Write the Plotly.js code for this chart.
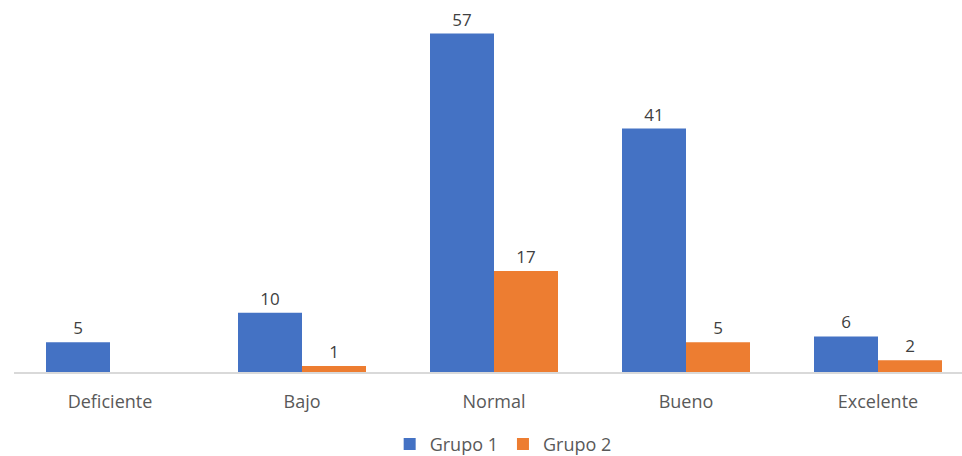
<!DOCTYPE html>
<html><head><meta charset="utf-8">
<script src="https://cdn.plot.ly/plotly-3.0.1.min.js"></script>
<style>html,body{margin:0;padding:0;background:#fff}</style>
</head><body><div id="chart" style="width:962px;height:456px"></div>
<script>
const categories = ["Deficiente", "Bajo", "Normal", "Bueno", "Excelente"];
const grupo1 = [5, 10, 57, 41, 6];
const grupo2 = [null, 1, 17, 5, 2];
const seriesNames = ["Grupo 1", "Grupo 2"];

const font = "Open Sans, sans-serif";
const traces = [
  {type: "bar", x: categories, y: grupo1, name: seriesNames[0],
   marker: {color: "#4472C4"}, text: grupo1.map(v => v == null ? "" : String(v)),
   textposition: "outside", cliponaxis: false,
   textfont: {family: font, size: 17, color: "#404040"}},
  {type: "bar", x: categories, y: grupo2, name: seriesNames[1],
   marker: {color: "#ED7D31"}, text: grupo2.map(v => v == null ? "" : String(v)),
   textposition: "outside", cliponaxis: false,
   textfont: {family: font, size: 17, color: "#404040"}}
];
const layout = {
  width: 962, height: 456,
  margin: {l: 14, r: 0, t: 10, b: 84, autoexpand: false},
  paper_bgcolor: "#fff", plot_bgcolor: "#fff",
  barmode: "group", bargap: 1/3, bargroupgap: 0,
  font: {family: font, color: "#595959", size: 18},
  showlegend: true,
  legend: {orientation: "h", x: 0.516, xanchor: "center", y: -0.2, yanchor: "middle",
           font: {family: font, size: 18, color: "#595959"}, traceorder: "normal"},
  xaxis: {type: "category", range: [-0.5, 4.4375], showline: true, linecolor: "#D9D9D9",
          linewidth: 2, showgrid: false, zeroline: false, ticks: "", ticklabelstandoff: 12,
          tickfont: {family: font, size: 18, color: "#595959"}, fixedrange: true, automargin: false},
  yaxis: {range: [0, 60.97], visible: false, showgrid: false, zeroline: false, fixedrange: true}
};
Plotly.newPlot("chart", traces, layout, {displayModeBar: false, staticPlot: true});
</script></body></html>
